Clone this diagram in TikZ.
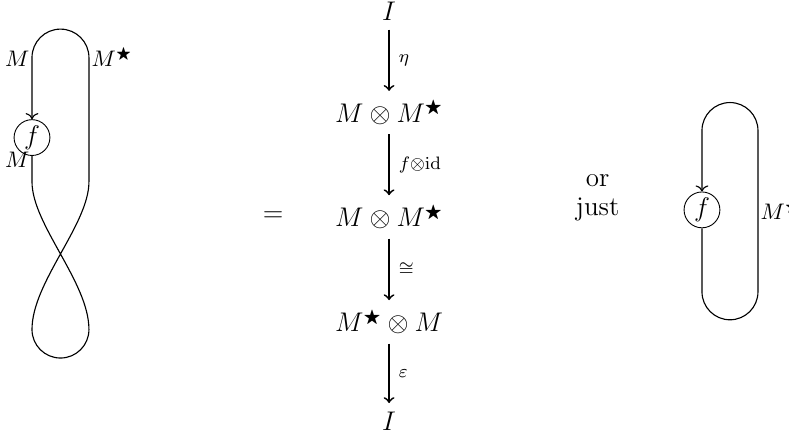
\documentclass[12pt,tikz,border=0pt]{standalone}
\usepackage{amsmath,amssymb}
\usetikzlibrary{arrows.meta}

\begin{document}
\begin{tikzpicture}[
  mor/.style={-to, line width=0.8pt},
  wire/.style={line width=0.5pt},
  lab/.style={right, font=\scriptsize},
  wlab/.style={font=\footnotesize, inner sep=1pt},
  fbox/.style={draw, circle, minimum size=0.56cm, inner sep=0pt}]
\useasboundingbox (0,0) rectangle (12.33,6.81);

%--- diagramma a sinistra ---
\node[fbox] (f1) at (0.5,4.66) {$f$};
\draw[wire,->] (f1.south) -- (0.5,3.97)
  .. controls (0.5,3.3) and (1.39,2.4) .. (1.39,1.66)
  arc (0:-180:0.445)
  .. controls (0.5,2.4) and (1.39,3.3) .. (1.39,3.97)
  -- (1.39,5.91) arc (0:180:0.445) -- (f1.north);
\node[wlab, anchor=base east] (m1) at (0.5,5.77) {$M$};
\node[wlab, anchor=base west] (ms1) at (1.39,5.77) {$M^{\bigstar}$};
\node[wlab, anchor=base east] (m2) at (0.5,4.19) {$M$};

\node (eq) at (4.27,3.42) {$=$};

%--- colonna centrale ---
\node (top) at (6.08,6.64) {$I$};
\node (mm1) at (6.08,5.05) {$M\otimes M^{\bigstar}$};
\node (mm2) at (6.08,3.42) {$M\otimes M^{\bigstar}$};
\node (mm3) at (6.08,1.78) {$M^{\bigstar}\otimes M$};
\node (bot) at (6.08,0.22) {$I$};
\draw[mor] (top) -- (mm1) node[lab, midway] {$\eta$};
\draw[mor] (mm1) -- (mm2) node[lab, midway] {$f{\otimes}\mathrm{id}$};
\draw[mor] (mm2) -- (mm3) node[lab, midway] {$\cong$};
\draw[mor] (mm3) -- (bot) node[lab, midway] {$\varepsilon$};

\node[align=center] (orjust) at (9.34,3.72) {or\\[-2pt]just};

%--- diagramma a destra ---
\node[fbox] (f2) at (10.97,3.53) {$f$};
\draw[wire,->] (f2.south) -- (10.97,2.25) arc (180:360:0.4375)
  -- (11.845,4.77) arc (0:180:0.4375) -- (f2.north);
\node[wlab, anchor=base west] (ms2) at (11.845,3.375) {$M^{\bigstar}$};
\end{tikzpicture}
\end{document}
